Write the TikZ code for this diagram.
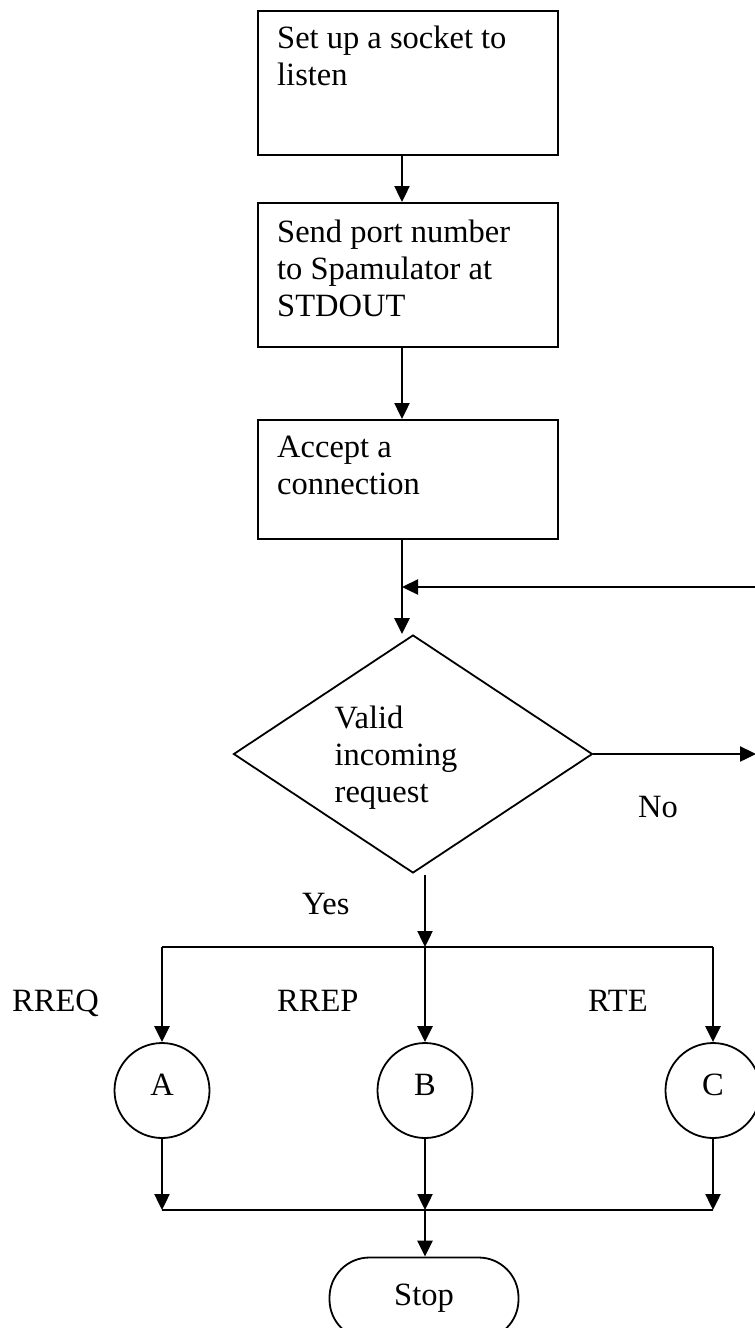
\documentclass[tikz,border=0pt]{standalone}
\usepackage{fontspec}
\setmainfont{Liberation Serif}
\usetikzlibrary{arrows.meta,shapes.geometric}
\begin{document}
\begin{tikzpicture}[x=1pt,y=-1pt,
  every node/.style={font=\fontsize{32.5pt}{37pt}\selectfont},
  procbox/.style={draw, line width=2.2pt, rectangle, minimum width=300pt, anchor=north west, inner sep=0pt},
  boxtext/.style={anchor=north west, inner sep=0pt, align=left},
  decision/.style={draw, diamond, line width=1.8pt, minimum width=359pt, minimum height=238pt, inner sep=0pt},
  conn/.style={draw, circle, line width=1.8pt, minimum size=95pt, inner sep=0pt, text depth=12pt},
  term/.style={draw, rectangle, rounded corners=40pt, line width=1.8pt, minimum width=189pt, minimum height=82pt, inner sep=0pt},
  flow/.style={line width=2.4pt, -{Triangle[length=16pt,width=15pt]}},
  plain/.style={line width=2.2pt},
  lbl/.style={anchor=base west, inner sep=0pt}]
\clip (0,0) rectangle (755,1328);
% process boxes
\node[procbox, minimum height=144pt] (b1) at (257,10) {};
\node[boxtext] (t1) at (277,26) {Set up a socket to\\listen};
\node[procbox, minimum height=144pt] (b2) at (257,202) {};
\node[boxtext] (t2) at (277,220) {Send port number\\to Spamulator at\\STDOUT};
\node[procbox, minimum height=119pt] (b3) at (257,419) {};
\node[boxtext] (t3) at (277,436) {Accept a\\connection};
% decision
\node[decision] (d) at (413,754) {};
\node[boxtext] (td) at (334.5,706) {Valid\\incoming\\request};
% connectors A B C
\node[conn] (cA) at (162,1090.5) {A};
\node[conn] (cB) at (425,1090.5) {B};
\node[conn] (cC) at (713,1090.5) {C};
% terminal
\node[term] (stop) at (424,1298.5) {Stop};
% labels
\node[lbl] (lyes) at (302,914) {Yes};
\node[lbl] (lno) at (638,817) {No};
\node[lbl] (lA) at (12,1011) {RREQ};
\node[lbl] (lB) at (277,1011) {RREP};
\node[lbl] (lC) at (588,1011) {RTE};
% coordinates
\coordinate (ax) at (402,0);
\coordinate (loopR) at (757,587);
\coordinate (j1) at (402,587);
\coordinate (noR) at (756,754);
\coordinate (yt) at (425,875);
\coordinate (j2) at (425,947);
\coordinate (jl) at (162,947);
\coordinate (jr) at (713,947);
\coordinate (kl) at (162,1210);
\coordinate (k2) at (425,1210);
\coordinate (kr) at (713,1210);
% connectors
\draw[flow] (b1.south -| ax) -- (b2.north -| ax);
\draw[flow] (b2.south -| ax) -- (b3.north -| ax);
\draw[flow] (b3.south -| ax) -- (ax |- d.north);
\draw[flow] (loopR) -- (j1);
\draw[flow] (d.east) -- (noR);
\draw[flow] (yt) -- (j2);
\draw[plain] (jl) -- (jr);
\draw[flow] (jl) -- (cA.north);
\draw[flow] (j2) -- (cB.north);
\draw[flow] (jr) -- (cC.north);
\draw[flow] (cA.south) -- (kl);
\draw[flow] (cB.south) -- (k2);
\draw[flow] (cC.south) -- (kr);
\draw[plain] (kl) -- (kr);
\draw[flow] (k2) -- (k2 |- stop.north);
\end{tikzpicture}
\end{document}
